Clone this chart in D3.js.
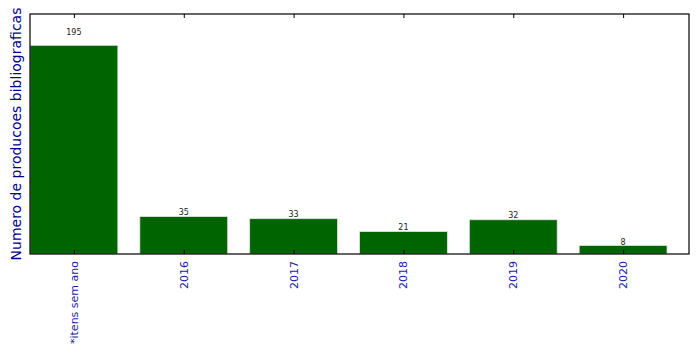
<!DOCTYPE html>
<html>
<head>
<meta charset="utf-8">
<script src="https://cdn.jsdelivr.net/npm/d3@7"></script>
<style>
  body { margin: 0; background: #fff; }
  svg { display: block; font-family: "DejaVu Sans", sans-serif; }
</style>
</head>
<body>
<div id="chart"></div>
<script>
// categories and counts
const categories = ["*itens sem ano", "2016", "2017", "2018", "2019", "2020"];
const counts = [195, 35, 33, 21, 32, 8];

const width = 699, height = 354;
const margin = { top: 14, right: 10, bottom: 100, left: 30 };

const svg = d3.select("#chart")
    .append("svg")
    .attr("width", width)
    .attr("height", height);

const x = d3.scaleLinear()
    .domain([-0.4, categories.length - 0.4])
    .range([margin.left, width - margin.right]);

const y = d3.scaleLinear()
    .domain([0, d3.max(counts) * 1.15])
    .range([height - margin.bottom, margin.top]);

const barW = x(0.8) - x(0);

// bars
svg.selectAll(".bar")
    .data(counts)
    .join("rect")
    .attr("class", "bar")
    .attr("x", (d, i) => x(i) - barW / 2)
    .attr("y", d => y(d))
    .attr("width", barW)
    .attr("height", d => y(0) - y(d))
    .attr("fill", "#006400")
    .attr("stroke", "#dfe8df")
    .attr("stroke-width", 0.8);

// value labels
svg.selectAll(".val")
    .data(counts)
    .join("text")
    .attr("class", "val")
    .attr("x", (d, i) => x(i))
    .attr("y", d => y(d * 1.05))
    .attr("text-anchor", "middle")
    .attr("font-size", 8)
    .attr("fill", "#222")
    .text(d => d);

// frame
svg.append("rect")
    .attr("x", margin.left)
    .attr("y", margin.top)
    .attr("width", width - margin.right - margin.left)
    .attr("height", height - margin.bottom - margin.top)
    .attr("fill", "none")
    .attr("stroke", "#000")
    .attr("stroke-width", 1.2);

// ticks, inward on bottom and top
const idx = d3.range(categories.length);
const bottomAxis = d3.axisBottom(x).tickValues(idx).tickSize(-4).tickFormat("");
const topAxis = d3.axisTop(x).tickValues(idx).tickSize(-4).tickFormat("");

svg.append("g")
    .attr("transform", `translate(0,${height - margin.bottom})`)
    .call(bottomAxis)
    .call(g => g.select(".domain").remove());

svg.append("g")
    .attr("transform", `translate(0,${margin.top})`)
    .call(topAxis)
    .call(g => g.select(".domain").remove());

// rotated category labels
svg.selectAll(".cat")
    .data(categories)
    .join("text")
    .attr("class", "cat")
    .attr("transform", (d, i) => `translate(${x(i) + 4},${height - margin.bottom + 7}) rotate(-90)`)
    .attr("text-anchor", "end")
    .attr("font-size", 11)
    .attr("fill", "#1a1aa6")
    .text(d => d);

// y label
svg.append("text")
    .attr("transform", `translate(21,${(margin.top + height - margin.bottom) / 2}) rotate(-90)`)
    .attr("text-anchor", "middle")
    .attr("font-size", 14)
    .attr("fill", "#00008b")
    .text("Numero de producoes bibliograficas");
</script>
</body>
</html>
